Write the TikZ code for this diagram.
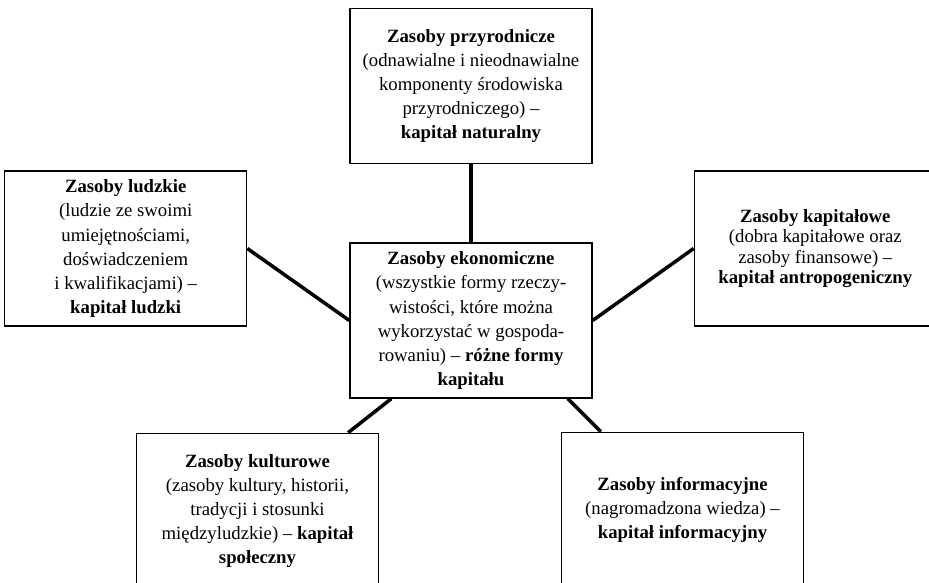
\documentclass[tikz,border=0pt]{standalone}
\usepackage{fontspec}
\setmainfont{Liberation Serif}
\usetikzlibrary{positioning}
\tikzset{res/.style={rectangle,draw,line width=1.1pt,align=center,minimum width=7.26cm,minimum height=4.65cm,inner sep=2pt,font=\fontsize{16}{20.5}\selectfont},link/.style={line width=3pt}}

\begin{document}
\begin{tikzpicture}[x=0.03cm,y=-0.03cm]
\clip (0,0) rectangle (929,582);
\node[res] (eco) at (471,320.5) {\textbf{Zasoby ekonomiczne}\\(wszystkie formy rzeczy-\\wistości, które można\\wykorzystać w gospoda-\\rowaniu) -- \textbf{różne formy}\\\textbf{kapitału}};
\node[res, above=2.34cm of eco] (nat) {\textbf{Zasoby przyrodnicze}\\(odnawialne i nieodnawialne\\komponenty środowiska\\przyrodniczego) --\\\textbf{kapitał naturalny}};
\node[res, left=3.06cm of eco, yshift=2.16cm] (ludz) {\textbf{Zasoby ludzkie}\\(ludzie ze swoimi\\umiejętnościami,\\doświadczeniem\\i kwalifikacjami) --\\\textbf{kapitał ludzki}};
\node[res, right=3.03cm of eco, yshift=2.16cm, font=\fontsize{16}{17.5}\selectfont] (kap) {\textbf{Zasoby kapitałowe}\\(dobra kapitałowe oraz\\zasoby finansowe) --\\\textbf{kapitał antropogeniczny}};
\node[res, below=1.02cm of eco, xshift=-6.405cm] (kult) {\textbf{Zasoby kulturowe}\\(zasoby kultury, historii,\\tradycji i stosunki\\międzyludzkie) -- \textbf{kapitał}\\\textbf{społeczny}};
\node[res, below=0.99cm of eco, xshift=6.345cm] (info) {\textbf{Zasoby informacyjne}\\(nagromadzona wiedza) --\\\textbf{kapitał informacyjny}};
% connectors
\draw[link] (nat) -- (eco);
\draw[link] (ludz.east) -- (eco.west);
\draw[link] (eco.east) -- (kap.west);
\draw[link] ([xshift=1.26cm]eco.south west) -- ([xshift=-0.93cm]kult.north east);
\draw[link] ([xshift=-0.75cm]eco.south east) -- ([xshift=1.2cm]info.north west);
\end{tikzpicture}
\end{document}
